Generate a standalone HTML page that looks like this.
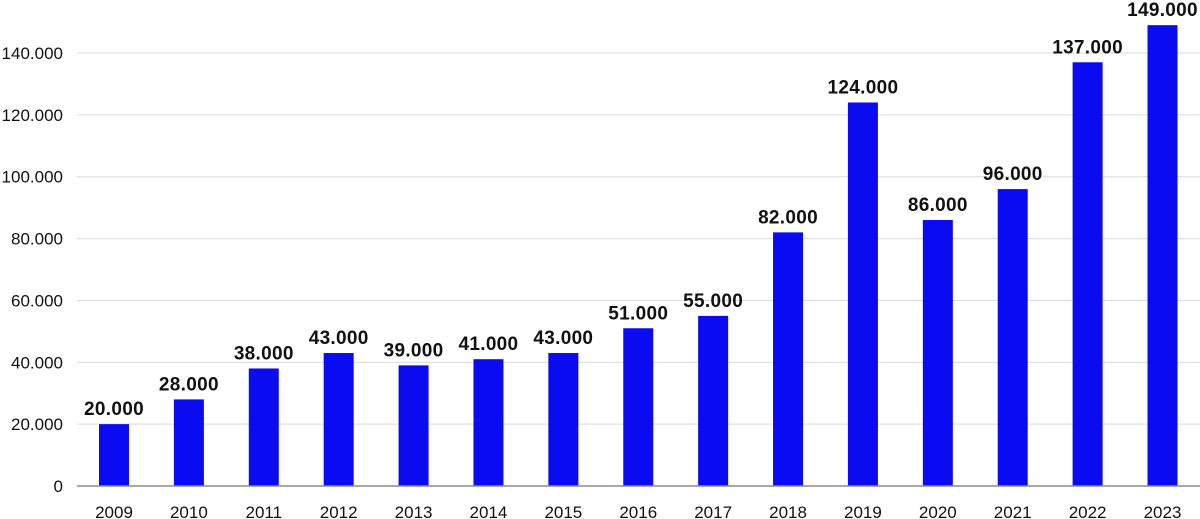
<!DOCTYPE html>
<html><head><meta charset="utf-8"><style>
html,body{margin:0;padding:0;background:#fff;}
svg{display:block;font-family:"Liberation Sans",sans-serif;}
</style></head><body>
<svg id="chart" width="1200" height="519" viewBox="0 0 1200 519" xmlns="http://www.w3.org/2000/svg">
<g id="grid"></g>
<g id="yticks"></g>
<g id="bars"></g>
<g id="xlabels"></g>
<line id="axis" x1="77" x2="1200" y1="486" y2="486" stroke="#8a8a8a" stroke-width="1.5"/>
</svg>
<script>
const categories = ["2009","2010","2011","2012","2013","2014","2015","2016","2017","2018","2019","2020","2021","2022","2023"];
const values = [20000,28000,38000,43000,39000,41000,43000,51000,55000,82000,124000,86000,96000,137000,149000];
const valueLabels = ["20.000","28.000","38.000","43.000","39.000","41.000","43.000","51.000","55.000","82.000","124.000","86.000","96.000","137.000","149.000"];
const yTicks = [0,20000,40000,60000,80000,100000,120000,140000];
const yTickLabels = ["0","20.000","40.000","60.000","80.000","100.000","120.000","140.000"];

const NS="http://www.w3.org/2000/svg";
const y0=486, pxPer=433/140000;
const yScale=v=>y0-v*pxPer;
const x0=114, step=(1162.5-114)/14;
const xScale=i=>x0+i*step;
const barW=30;
function mk(tag,attrs,parent){const e=document.createElementNS(NS,tag);for(const k in attrs)e.setAttribute(k,attrs[k]);parent.appendChild(e);return e;}
const grid=document.getElementById('grid'),yt=document.getElementById('yticks'),bars=document.getElementById('bars'),xl=document.getElementById('xlabels');
yTicks.forEach((t,i)=>{
  if(t>0){const l=mk('line',{x1:77,x2:1200,y1:yScale(t),y2:yScale(t),stroke:'#d9d9d9','stroke-width':1},grid);
  
  }
  const tx=mk('text',{x:63,y:yScale(t)+6,'text-anchor':'end','font-size':17,fill:'#111'},yt);
  tx.textContent=yTickLabels[i];
  
  
});
categories.forEach((c,i)=>{
  const cx=xScale(i), y=yScale(values[i]);
  const r=mk('rect',{x:cx-barW/2,y:y,width:barW,height:y0-y,fill:'#0b0bf2'},bars);
  
  
  const v=mk('text',{x:cx,y:y-9,'text-anchor':'middle','font-size':19,'font-weight':'bold',fill:'#111','letter-spacing':'0.3'},bars);
  v.textContent=valueLabels[i];
  
  
  const t=mk('text',{x:cx,y:518,'text-anchor':'middle','font-size':17,fill:'#111'},xl);
  t.textContent=c;
  
  
});
</script>
</body></html>
